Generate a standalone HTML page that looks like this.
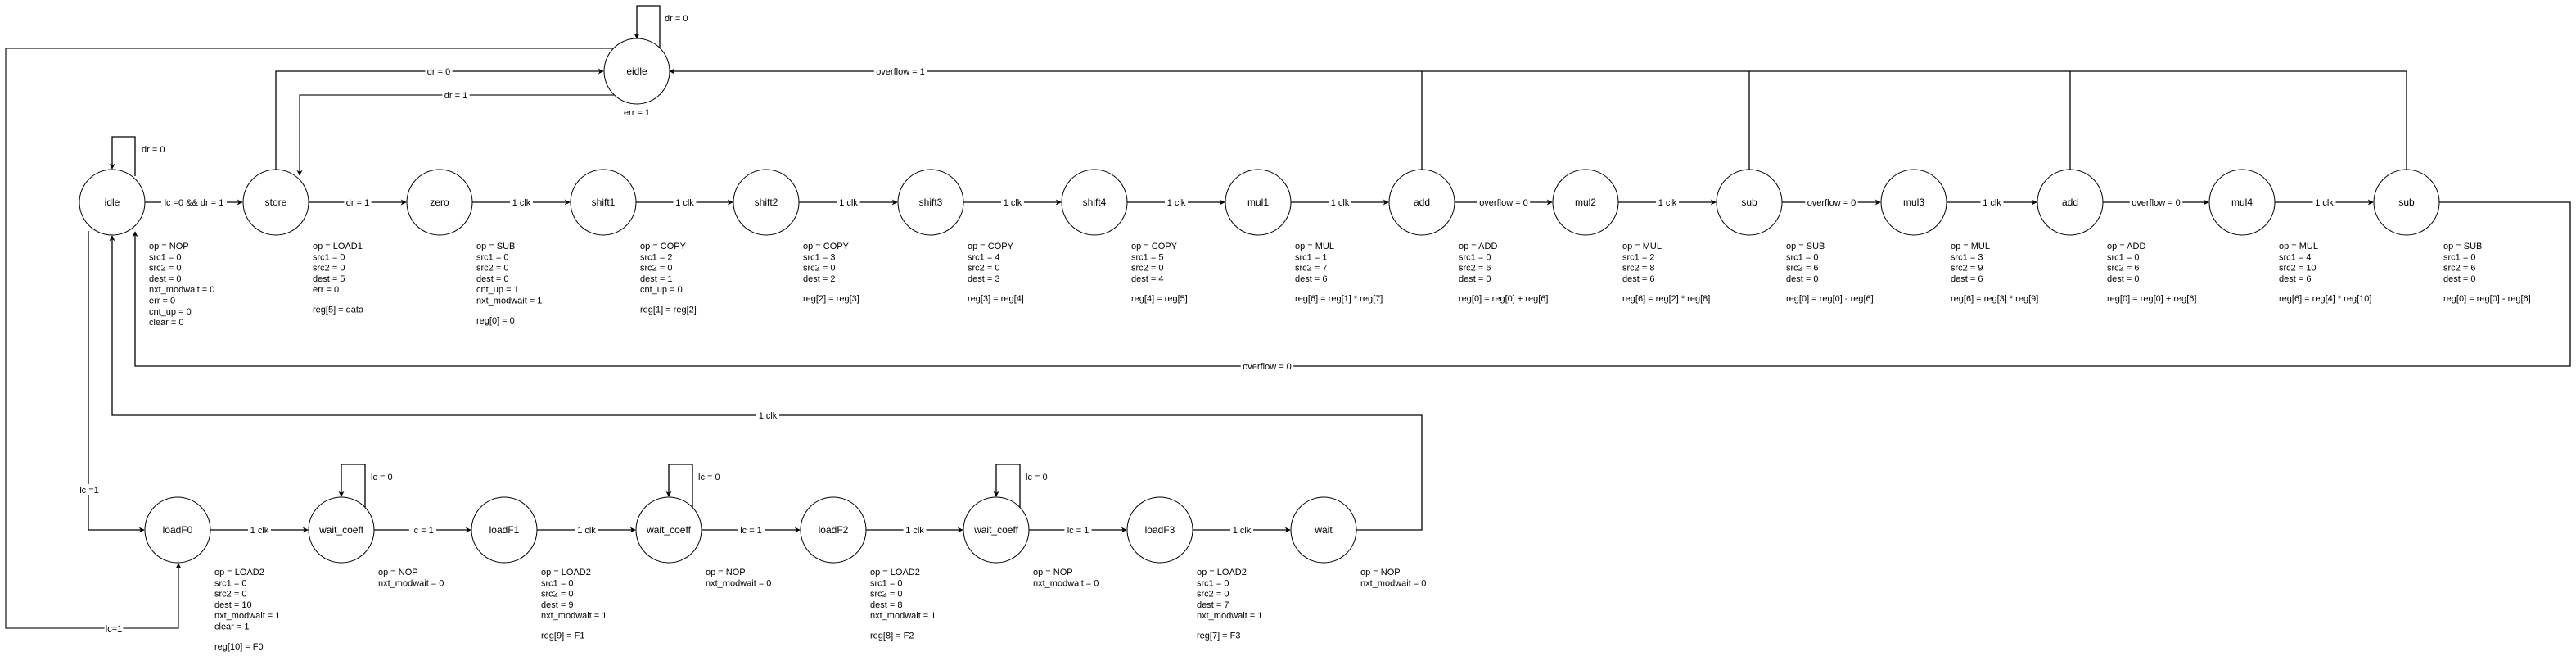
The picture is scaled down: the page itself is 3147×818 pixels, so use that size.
<!DOCTYPE html>
<html><head><meta charset="utf-8"><style>
html,body{margin:0;padding:0;background:#fff;}
svg{display:block;}
text{font-family:"Liberation Sans",Arial,sans-serif;fill:#000;}
</style></head><body>
<svg id="s" width="3147" height="818" viewBox="0 0 3147 818" xmlns="http://www.w3.org/2000/svg">
<defs><marker id="a" viewBox="0 0 10 10" refX="9" refY="5" markerWidth="7" markerHeight="7" orient="auto" markerUnits="userSpaceOnUse"><path d="M0,0 L10,5 L0,10 L3,5 z" fill="#000"/></marker></defs>
</svg>
<script>
(function(){
var s=document.getElementById('s'),NS="http://www.w3.org/2000/svg";
function el(t,at,txt){var e=document.createElementNS(NS,t);for(var k in at)e.setAttribute(k,at[k]);if(txt!==undefined)e.textContent=txt;s.appendChild(e);return e;}
function line(pts,arrow,col){var d="M"+pts.map(function(p){return p[0]+","+p[1];}).join(" L");var a={d:d,fill:"none",stroke:col||"#000","stroke-width":1.3};if(arrow)a["marker-end"]="url(#a)";el("path",a);}
function lbl(x,y,t){var tx=el("text",{x:x,y:y+4,"font-size":11,"text-anchor":"middle"},t);var w=t.length*5.2+2;var r=document.createElementNS(NS,"rect");r.setAttribute("x",x-w/2);r.setAttribute("y",y-7);r.setAttribute("width",w);r.setAttribute("height",13);r.setAttribute("fill","#fff");s.insertBefore(r,tx);}
function node(x,y,n){el("circle",{cx:x,cy:y,r:40,fill:"#fff",stroke:"#000","stroke-width":1});el("text",{x:x,y:y+4,"font-size":12,"text-anchor":"middle"},n);}
function attrs(x,y,arr){var yy=y;arr.forEach(function(t){if(t===""){yy+=11;return;}el("text",{x:x,y:yy,"font-size":11},t);yy+=13.3;});}
var TY=247,BY=647;
var topRow=[
["idle",137,["op = NOP","src1 = 0","src2 = 0","dest = 0","nxt_modwait = 0","err = 0","cnt_up = 0","clear = 0"]],
["store",337,["op = LOAD1","src1 = 0","src2 = 0","dest = 5","err = 0","","reg[5] = data"]],
["zero",537,["op = SUB","src1 = 0","src2 = 0","dest = 0","cnt_up = 1","nxt_modwait = 1","","reg[0] = 0"]],
["shift1",737,["op = COPY","src1 = 2","src2 = 0","dest = 1","cnt_up = 0","","reg[1] = reg[2]"]],
["shift2",936,["op = COPY","src1 = 3","src2 = 0","dest = 2","","reg[2] = reg[3]"]],
["shift3",1137,["op = COPY","src1 = 4","src2 = 0","dest = 3","","reg[3] = reg[4]"]],
["shift4",1337,["op = COPY","src1 = 5","src2 = 0","dest = 4","","reg[4] = reg[5]"]],
["mul1",1537,["op = MUL","src1 = 1","src2 = 7","dest = 6","","reg[6] = reg[1] * reg[7]"]],
["add",1737,["op = ADD","src1 = 0","src2 = 6","dest = 0","","reg[0] = reg[0] + reg[6]"]],
["mul2",1937,["op = MUL","src1 = 2","src2 = 8","dest = 6","","reg[6] = reg[2] * reg[8]"]],
["sub",2137,["op = SUB","src1 = 0","src2 = 6","dest = 0","","reg[0] = reg[0] - reg[6]"]],
["mul3",2338,["op = MUL","src1 = 3","src2 = 9","dest = 6","","reg[6] = reg[3] * reg[9]"]],
["add",2529,["op = ADD","src1 = 0","src2 = 6","dest = 0","","reg[0] = reg[0] + reg[6]"]],
["mul4",2739,["op = MUL","src1 = 4","src2 = 10","dest = 6","","reg[6] = reg[4] * reg[10]"]],
["sub",2940,["op = SUB","src1 = 0","src2 = 6","dest = 0","","reg[0] = reg[0] - reg[6]"]]];
var tl=["lc =0 && dr = 1","dr = 1","1 clk","1 clk","1 clk","1 clk","1 clk","1 clk","overflow = 0","1 clk","overflow = 0","1 clk","overflow = 0","1 clk"];
var botRow=[
["loadF0",217,["op = LOAD2","src1 = 0","src2 = 0","dest = 10","nxt_modwait = 1","clear = 1","","reg[10] = F0"]],
["wait_coeff",417,["op = NOP","nxt_modwait = 0"]],
["loadF1",616,["op = LOAD2","src1 = 0","src2 = 0","dest = 9","nxt_modwait = 1","","reg[9] = F1"]],
["wait_coeff",817,["op = NOP","nxt_modwait = 0"]],
["loadF2",1018,["op = LOAD2","src1 = 0","src2 = 0","dest = 8","nxt_modwait = 1","","reg[8] = F2"]],
["wait_coeff",1217,["op = NOP","nxt_modwait = 0"]],
["loadF3",1417,["op = LOAD2","src1 = 0","src2 = 0","dest = 7","nxt_modwait = 1","","reg[7] = F3"]],
["wait",1617,["op = NOP","nxt_modwait = 0"]]];
var bl=["1 clk","lc = 1","1 clk","lc = 1","1 clk","lc = 1","1 clk"];
line([[2940,207],[2940,87],[818,87]],true);
[1737,2137,2529].forEach(function(x){line([[x,207],[x,87]],false);});
lbl(1100,87,"overflow = 1");
line([[806,58],[806,7],[778,7],[778,47]],true);
el("text",{x:812,y:26,"font-size":11},"dr = 0");
line([[750,59],[7,59],[7,767],[218,767],[218,688]],true,"#222");
lbl(139,767,"lc=1");
line([[337,207],[337,87],[737,87]],true);
lbl(536,87,"dr = 0");
line([[750,116],[366,116],[366,214]],true,"#222");
lbl(557,116,"dr = 1");
el("text",{x:778,y:141,"font-size":11,"text-anchor":"middle"},"err = 1");
line([[165,215],[165,167],[137,167],[137,206]],true);
el("text",{x:173,y:186,"font-size":11},"dr = 0");
line([[108,282],[108,647],[176,647]],true);
lbl(109,598,"lc =1");
line([[1657,647],[1737,647],[1737,507],[137,507],[137,288]],true);
lbl(938,507,"1 clk");
line([[2980,247],[3140,247],[3140,447],[165,447],[165,283]],true);
lbl(1548,447,"overflow = 0");
for(var i=0;i<topRow.length-1;i++){var x1=topRow[i][1]+40,x2=topRow[i+1][1]-40;line([[x1,TY],[x2-1,TY]],true);lbl((x1+x2)/2,TY,tl[i]);}
for(var j=0;j<botRow.length-1;j++){var y1=botRow[j][1]+40,y2=botRow[j+1][1]-40;line([[y1,BY],[y2-1,BY]],true);lbl((y1+y2)/2,BY,bl[j]);}
[417,817,1217].forEach(function(x){line([[x+29,620],[x+29,567],[x,567],[x,606]],true);el("text",{x:x+36,y:586,"font-size":11},"lc = 0");});
topRow.forEach(function(n){node(n[1],TY,n[0]);attrs(n[1]+45,304,n[2]);});
botRow.forEach(function(n){node(n[1],BY,n[0]);attrs(n[1]+45,702,n[2]);});
node(778,87,"eidle");
})();
</script>
</body></html>
